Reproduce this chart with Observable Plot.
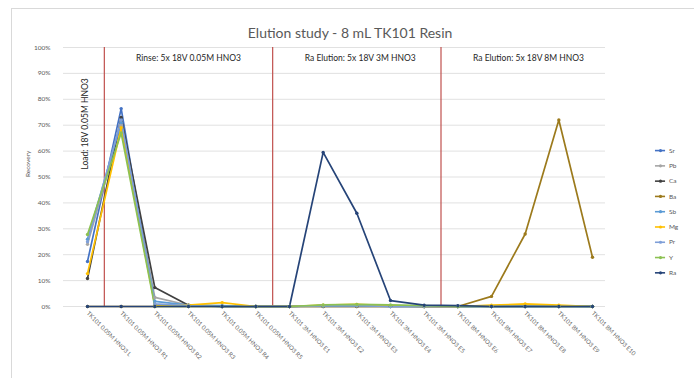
<!DOCTYPE html>
<html><head><meta charset="utf-8">
<script src="https://cdn.jsdelivr.net/npm/d3@7"></script>
<script src="https://cdn.jsdelivr.net/npm/@observablehq/plot@0.6"></script>
<style>
body{margin:0;background:#fff;font-family:Lato,"Open Sans",sans-serif;}
#wrap{position:relative;width:694px;height:378px;overflow:hidden;}
#border{position:absolute;left:11px;top:8px;width:800px;height:500px;border-top:1px solid #d9d9d9;border-left:1px solid #d9d9d9;}
#wrap svg{position:absolute;left:0;top:0;}
</style>
</head><body>
<div id="wrap"><div id="border"></div></div>
<script>
const categories = [
  "TK101 0.05M HNO3 L","TK101 0.05M HNO3 R1","TK101 0.05M HNO3 R2","TK101 0.05M HNO3 R3",
  "TK101 0.05M HNO3 R4","TK101 0.05M HNO3 R5","TK101 3M HNO3 E1","TK101 3M HNO3 E2",
  "TK101 3M HNO3 E3","TK101 3M HNO3 E4","TK101 3M HNO3 E5","TK101 8M HNO3 E6",
  "TK101 8M HNO3 E7","TK101 8M HNO3 E8","TK101 8M HNO3 E9","TK101 8M HNO3 E10"
];
const seriesNames = ["Sr","Pb","Ca","Ba","Sb","Mg","Pr","Y","Ra"];
const seriesColors = ["#4472C4","#A5A5A5","#404040","#9C7A1C","#5B9BD5","#FFC000","#7F9FD8","#8CC152","#264478"];
const Sr = [17.4, 76.4, 0.5, 0.3, 0, 0, 0, 0.3, 0.5, 0.2, 0, 0, 0, 0, 0, 0];
const Pb = [24, 70, 3.5, 0.5, 0.2, 0, 0, 0.3, 0.5, 0.2, 0, 0, 0, 0.2, 0.2, 0];
const Ca = [10.8, 73, 7.3, 0.5, 0, 0, 0, 0, 0, 0, 0, 0, 0, 0, 0, 0];
const Ba = [0, 0, 0, 0, 0, 0, 0, 0, 0, 0, 0, 0, 3.9, 28, 72, 19];
const Sb = [26, 71, 2, 0.5, 0.3, 0, 0, 0.2, 0.3, 0, 0, 0, 0, 0, 0, 0];
const Mg = [12.7, 69, 0.5, 0.5, 1.5, 0, 0, 0.5, 0.8, 0.3, 0, 0, 0.5, 1, 0.5, 0];
const Pr = [25, 72, 1, 0.3, 0, 0, 0, 0.3, 0.3, 0, 0, 0, 0, 0, 0, 0];
const Y  = [27.8, 67, 0, 0, 0, 0, 0, 0.6, 0.8, 0.6, 0.3, 0, 0, 0, 0, 0];
const Ra = [0, 0, 0, 0, 0, 0, 0, 59.5, 36, 2.3, 0.5, 0.3, 0, 0, 0, 0];
const yTicks = [0,10,20,30,40,50,60,70,80,90,100];
const dividers = [0.5, 5.5, 10.5];
const sections = [
  {x: 3, label: "Rinse: 5x 18V 0.05M HNO3"},
  {x: 8.1, label: "Ra Elution: 5x 18V 3M HNO3"},
  {x: 13.1, label: "Ra Elution: 5x 18V 8M HNO3"}
];
const loadLabel = "Load: 18V 0.05M HNO3";
const title = "Elution study - 8 mL TK101 Resin";
const yLabel = "Recovery";

const values = [Sr, Pb, Ca, Ba, Sb, Mg, Pr, Y, Ra];
const long = [];
seriesNames.forEach((s, k) => values[k].forEach((v, i) => long.push({s, i, v})));

// legend rows (index units on x, percent units on y)
const legend = seriesNames.map((s, k) => ({s, y: 60.2 - 5.9 * k}));

const plot = Plot.plot({
  width: 694, height: 378,
  marginLeft: 63, marginRight: 89, marginTop: 47, marginBottom: 72,
  style: {fontFamily: "Lato, 'Open Sans', sans-serif", background: "transparent", overflow: "visible"},
  x: {type: "linear", domain: [0, 15], range: [87, 592]},
  y: {domain: [0, 100], range: [306, 47]},
  color: {domain: seriesNames, range: seriesColors},
  marks: [
    Plot.ruleY(yTicks, {stroke: "#d9d9d9", strokeWidth: 0.8}),
    Plot.ruleX(dividers, {y1: 0, y2: 100, stroke: "#C0504D", strokeWidth: 1.2}),
    Plot.line(long, {x: "i", y: "v", z: "s", stroke: "s", strokeWidth: 1.7}),
    Plot.dot(long, {x: "i", y: "v", fill: "s", r: 1.7}),
    Plot.axisY(yTicks, {tickSize: 0, tickPadding: 13, tickFormat: d => d + "%", fontSize: 6.5, color: "#595959", label: null}),
    Plot.axisX(d3.range(categories.length), {tickSize: 0, tickPadding: 6, tickRotate: 45, tickFormat: i => categories[i], fontSize: 6, color: "#666666", label: null}),
    Plot.text([yLabel], {frameAnchor: "left", dx: -36, rotate: -90, fontSize: 6.5, fill: "#595959", text: d => d}),
    Plot.text([title], {x: 7.8, frameAnchor: "top", dy: -19, fontSize: 14, fill: "#595959", text: d => d}),
    Plot.text(sections, {x: "x", y: 96, text: "label", fontSize: 8.5, fill: "#262626"}),
    Plot.text([loadLabel], {x: -0.08, y: 70.5, rotate: -90, fontSize: 8.5, fill: "#262626", text: d => d}),
    Plot.ruleY(legend, {y: "y", x1: 16.87, x2: 17.17, stroke: "s", strokeWidth: 1.6}),
    Plot.dot(legend, {x: 17.02, y: "y", fill: "s", r: 1.6}),
    Plot.text(legend, {x: 17.27, y: "y", text: "s", textAnchor: "start", fontSize: 6.5, fill: "#595959"})
  ]
});
document.getElementById("wrap").appendChild(plot);
</script>
</body></html>
